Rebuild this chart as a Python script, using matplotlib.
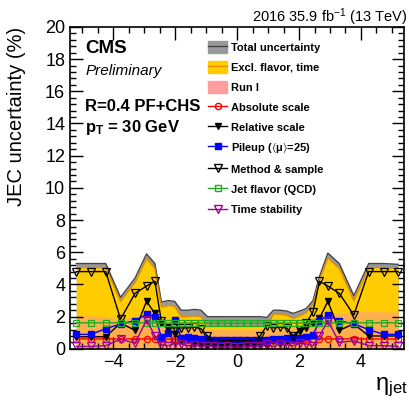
import numpy as np
import matplotlib
matplotlib.use("Agg")
import matplotlib.pyplot as plt
from matplotlib.patches import Patch
from matplotlib.lines import Line2D
from matplotlib.ticker import MultipleLocator

plt.rcParams["font.family"] = ["Liberation Sans", "DejaVu Sans"]
plt.rcParams["mathtext.fontset"] = "custom"
plt.rcParams["mathtext.rm"] = "Liberation Sans"
plt.rcParams["mathtext.it"] = "Liberation Sans:italic"
plt.rcParams["mathtext.bf"] = "Liberation Sans:bold"
plt.rcParams["mathtext.default"] = "regular"

# eta points (symmetric grid)
eta_pos = [0.1, 0.32, 0.53, 0.74, 0.96, 1.17, 1.38, 1.6, 1.81, 2.02,
           2.23, 2.45, 2.66, 2.93, 3.3, 3.77, 4.25, 4.73, 5.2]
eta = [-e for e in eta_pos[::-1]] + eta_pos

# bands (%)
total = [5.3, 5.3, 5.3, 3.2, 4.4, 5.9, 5.3, 2.9, 3.0, 2.95, 2.4, 2.4, 2.45, 2.4, 2.0, 2.0, 2.0, 2.0, 2.0,
         2.0, 2.0, 2.0, 2.0, 1.95, 2.4, 2.4, 2.35, 2.2, 2.35, 2.5, 3.0, 4.5, 5.95, 5.3, 3.3, 5.3, 5.3, 5.25]
excl_flavor_time = [5.05, 5.05, 5.05, 2.95, 4.15, 5.6, 5.0, 2.6, 2.7, 2.65, 2.0, 2.0, 2.05, 2.0, 1.45, 1.45, 1.45, 1.45, 1.45,
                    1.45, 1.45, 1.45, 1.45, 1.4, 2.15, 2.15, 2.1, 1.9, 2.05, 2.25, 2.75, 4.3, 5.65, 5.0, 3.0, 5.05, 5.05, 5.0]
run1 = [2.05, 2.05, 2.0, 1.85, 2.0, 2.2, 2.0, 1.7, 1.5, 1.45, 1.4, 1.35, 1.3, 1.25, 1.2, 1.2, 1.2, 1.2, 1.2,
        1.2, 1.2, 1.2, 1.2, 1.25, 1.35, 1.35, 1.35, 1.35, 1.4, 1.5, 1.9, 2.1, 2.3, 2.2, 2.3, 2.35, 2.3, 2.3]

# sources (%)
absolute = [0.62, 0.62, 0.62, 0.62, 0.62, 0.62, 0.62, 0.62, 0.6, 0.6, 0.58, 0.58, 0.58, 0.58, 0.58, 0.58, 0.58, 0.58, 0.58,
            0.58, 0.58, 0.58, 0.58, 0.58, 0.58, 0.58, 0.58, 0.58, 0.6, 0.6, 0.62, 0.62, 0.62, 0.62, 0.62, 0.62, 0.62, 0.62]
relative = [0.75, 0.75, 0.75, 1.6, 1.15, 2.95, 2.2, 1.6, 1.3, 0.9, 0.55, 0.6, 0.35, 0.3, 0.2, 0.2, 0.3, 0.25, 0.3,
            0.3, 0.25, 0.25, 0.3, 0.15, 0.5, 0.35, 0.5, 0.7, 1.1, 1.3, 1.6, 1.9, 2.95, 1.15, 1.55, 0.8, 0.8, 0.8]
pileup = [0.9, 0.9, 1.25, 1.55, 1.75, 2.15, 2.0, 0.75, 1.0, 1.8, 0.7, 0.75, 0.7, 0.6, 0.6, 0.55, 0.55, 0.55, 0.55,
          0.55, 0.55, 0.55, 0.55, 0.55, 0.6, 0.6, 0.65, 0.6, 0.65, 0.75, 0.85, 1.75, 2.1, 1.75, 1.55, 1.2, 0.9, 0.9]
method = [4.8, 4.8, 4.8, 1.85, 3.45, 3.9, 4.2, 1.7, 1.3, 1.3, 1.3, 1.3, 1.35, 1.25, 0.8, 0.35, 0.3, 0.3, 0.3,
          0.3, 0.3, 0.35, 0.8, 1.45, 1.3, 1.35, 1.3, 0.8, 1.2, 1.6, 2.3, 4.2, 3.9, 3.45, 2.1, 4.8, 4.8, 4.8]
flavor = [1.62, 1.62, 1.62, 1.62, 1.62, 1.62, 1.62, 1.6, 1.6, 1.6, 1.6, 1.6, 1.6, 1.6, 1.6, 1.6, 1.6, 1.6, 1.6,
          1.6, 1.6, 1.6, 1.6, 1.6, 1.6, 1.6, 1.6, 1.6, 1.6, 1.6, 1.6, 1.62, 1.62, 1.62, 1.62, 1.62, 1.62, 1.62]
time_stab = [0.15, 0.15, 0.2, 0.6, 0.35, 1.8, 0.8, 0.25, 0.2, 0.35, 0.3, 0.2, 0.25, 0.15, 0.2, 0.15, 0.1, 0.15, 0.1,
             0.1, 0.15, 0.15, 0.2, 0.3, 0.15, 0.3, 0.25, 0.2, 0.35, 0.3, 0.2, 0.8, 1.75, 0.4, 0.5, 0.2, 0.2, 0.15]

fig = plt.figure(figsize=(4.10, 4.01), dpi=100)
ax = fig.add_axes([0.171, 0.130, 0.815, 0.803])

# bands
ax.fill_between(eta, 0, total, color="#999999", lw=0)
ax.plot(eta, total, color="#444444", lw=1)
ax.fill_between(eta, 0, excl_flavor_time, color="#ffcc00", lw=0)
ax.plot(eta, excl_flavor_time, color="#e09000", lw=1)
ax.fill_between(eta, 0, run1, color="#ff9c80", alpha=0.6, lw=0)

ms = 4.5
ax.plot(eta, absolute, color="red", marker="o", mfc="none", ms=ms, lw=1, mew=0.9)
ax.plot(eta, relative, color="black", marker="v", ms=ms, lw=1)
ax.plot(eta, pileup, color="blue", marker="s", ms=ms, lw=1)
ax.plot(eta, method, color="black", marker="v", mfc="none", ms=ms + 1, lw=1, mew=0.9)
ax.plot(eta, flavor, color="#22aa22", marker="s", mfc="none", ms=ms + 0.5, lw=1, mew=0.9)
ax.plot(eta, time_stab, color="#990099", marker="v", mfc="none", ms=ms + 1, lw=1, mew=0.9)

ax.set_xlim(-5.4, 5.4)
ax.set_ylim(0, 20)
ax.xaxis.set_major_locator(MultipleLocator(2))
ax.xaxis.set_minor_locator(MultipleLocator(0.5))
ax.yaxis.set_major_locator(MultipleLocator(2))
ax.yaxis.set_minor_locator(MultipleLocator(0.4))
ax.tick_params(which="both", direction="in", top=True, right=True, labelsize=13, width=1)
ax.tick_params(which="major", length=9)
ax.tick_params(which="minor", length=4.5)
ax.set_xticks([-4, -2, 0, 2, 4])
ax.set_xticklabels(["\u22124", "\u22122", "0", "2", "4"])
for s in ax.spines.values():
    s.set_linewidth(1.2)

# texts
ax.text(0.045, 0.958, "CMS", transform=ax.transAxes, fontsize=13.5, fontweight="bold", va="top")
ax.text(0.045, 0.885, "Preliminary", transform=ax.transAxes, fontsize=11, style="italic", va="top")
ax.text(0.045, 0.777, "R=0.4 PF+CHS", transform=ax.transAxes, fontsize=12, fontweight="bold", va="top")
ax.text(0.045, 0.718, r"$\mathbf{p}_{\mathbf{T}}$ = 30 GeV", transform=ax.transAxes, fontsize=12,
        fontweight="bold", va="top")
fig.text(0.993, 0.985, r"2016 35.9 fb$^{-1}$ (13 TeV)", ha="right", va="top", fontsize=10.5)
fig.text(0.04, 0.933, "JEC uncertainty (%)", rotation=90, ha="center", va="top", fontsize=14.5)
fig.text(0.995, 0.005, r"$\eta_{jet}$", ha="right", va="bottom", fontsize=17)

handles = [
    (Patch(color="#999999"), Line2D([], [], color="#444444", lw=1)),
    (Patch(color="#ffcc00"), Line2D([], [], color="#e09000", lw=1)),
    Patch(color="#ff9c9c"),
    Line2D([], [], color="red", marker="o", mfc="none", ms=ms, lw=1),
    Line2D([], [], color="black", marker="v", ms=ms, lw=1),
    Line2D([], [], color="blue", marker="s", ms=ms, lw=1),
    Line2D([], [], color="black", marker="v", mfc="none", ms=ms + 1, lw=1),
    Line2D([], [], color="#22aa22", marker="s", mfc="none", ms=ms + 0.5, lw=1),
    Line2D([], [], color="#990099", marker="v", mfc="none", ms=ms + 1, lw=1),
]
labels = ["Total uncertainty", "Excl. flavor, time", "Run I", "Absolute scale", "Relative scale",
          r"Pileup ($\langle\mu\rangle$=25)", "Method & sample", "Jet flavor (QCD)", "Time stability"]
leg = ax.legend(handles, labels, loc="upper left", bbox_to_anchor=(0.40, 0.97), frameon=False,
                prop={"size": 8, "weight": "bold"}, handlelength=1.7, handleheight=1.3,
                handletextpad=0.35, labelspacing=0.72, borderaxespad=0)

fig.savefig("out.png", dpi=100)
